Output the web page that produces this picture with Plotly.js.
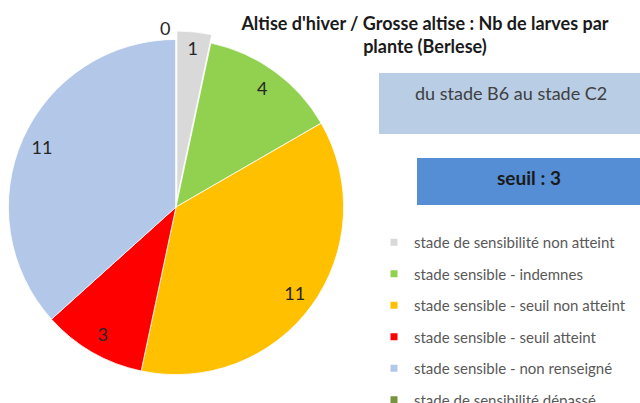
<!DOCTYPE html>
<html>
<head>
<meta charset="utf-8">
<script src="https://cdn.plot.ly/plotly-3.0.1.min.js"></script>
<style>html,body{margin:0;padding:0;background:#fff;}#chart{width:640px;height:403px;}</style>
</head>
<body>
<div id="chart"></div>
<script>
const categories = [
  "stade de sensibilité non atteint",
  "stade sensible - indemnes",
  "stade sensible - seuil non atteint",
  "stade sensible - seuil atteint",
  "stade sensible - non renseigné",
  "stade de sensibilité dépassé"
];
const values = [1, 4, 11, 3, 11, 0];
const colors = ["#D9D9D9", "#92D050", "#FFC000", "#FF0000", "#B3C8E8", "#77933C"];
const pulls = [0.05, 0, 0, 0, 0, 0];
const titleText = "Altise d'hiver / Grosse altise : Nb de larves par<br>plante (Berlese)";
const stageText = "du stade B6 au stade C2";
const threshold = 3;

const FONT = "Lato, 'Open Sans', sans-serif";
const domain = {x: [0, 0.55], y: [19/403, 373/403]};

const mainPie = {
  type: "pie",
  labels: categories,
  values: values,
  sort: false,
  direction: "clockwise",
  rotation: 0,
  pull: pulls,
  marker: {colors: colors, line: {color: "#FFFFFF", width: 0.8}},
  textinfo: "none",
  hoverinfo: "none",
  domain: domain,
  showlegend: false
};

const labelPie = {
  type: "pie",
  labels: categories,
  values: values,
  sort: false,
  direction: "clockwise",
  rotation: 0,
  pull: pulls,
  hole: 0.75,
  marker: {colors: values.map(() => "rgba(0,0,0,0)"), line: {width: 0}},
  textinfo: "value",
  textposition: values.map(v => v === 0 ? "outside" : "inside"),
  insidetextorientation: "horizontal",
  textfont: {family: FONT, size: 18, color: "#262626"},
  hoverinfo: "none",
  domain: domain,
  showlegend: false
};

// legend entries, one per category, built from the same arrays
const legendTraces = categories.map((c, i) => ({
  type: "scatter",
  mode: "markers",
  x: [null], y: [null],
  name: c,
  legendgroup: "g" + i,
  marker: {symbol: "square", size: 7, color: colors[i]},
  hoverinfo: "none",
  showlegend: true
}));

const layout = {
  width: 640,
  height: 403,
  margin: {l: 0, r: 0, t: 0, b: 0, autoexpand: false},
  paper_bgcolor: "#FFFFFF",
  plot_bgcolor: "rgba(0,0,0,0)",
  font: {family: FONT},
  xaxis: {visible: false},
  yaxis: {visible: false},
  title: {
    text: titleText,
    x: 0.664, xanchor: "center",
    y: 1 - 30/403, yanchor: "top",
    font: {family: FONT, size: 18, color: "#1A1A1A", weight: 700}
  },
  legend: {
    x: 374/640, xanchor: "left",
    y: (403-226)/403, yanchor: "top",
    font: {family: FONT, size: 15, color: "#595959"},
    bgcolor: "rgba(0,0,0,0)",
    traceorder: "grouped",
    tracegroupgap: 9
  },
  shapes: [
    {type: "rect", xref: "paper", yref: "paper", x0: 379/640, x1: 1, y0: (403-134)/403, y1: (403-73)/403,
     fillcolor: "#B9CDE5", line: {width: 0}, layer: "below"},
    {type: "rect", xref: "paper", yref: "paper", x0: 417/640, x1: 1, y0: (403-205)/403, y1: (403-158)/403,
     fillcolor: "#558ED5", line: {width: 0}, layer: "below"}
  ],
  annotations: [
    {text: stageText, xref: "paper", yref: "paper", x: 511/640, y: (403-93)/403,
     xanchor: "center", yanchor: "middle", showarrow: false,
     font: {family: FONT, size: 18, color: "#404040"}},
    {text: "seuil : " + threshold, xref: "paper", yref: "paper", x: 529/640, y: (403-177)/403,
     xanchor: "center", yanchor: "middle", showarrow: false,
     font: {family: FONT, size: 19, color: "#1A1A1A", weight: 700}}
  ]
};

Plotly.newPlot("chart", [mainPie, labelPie].concat(legendTraces), layout, {displayModeBar: false, staticPlot: true});
</script>
</body>
</html>
